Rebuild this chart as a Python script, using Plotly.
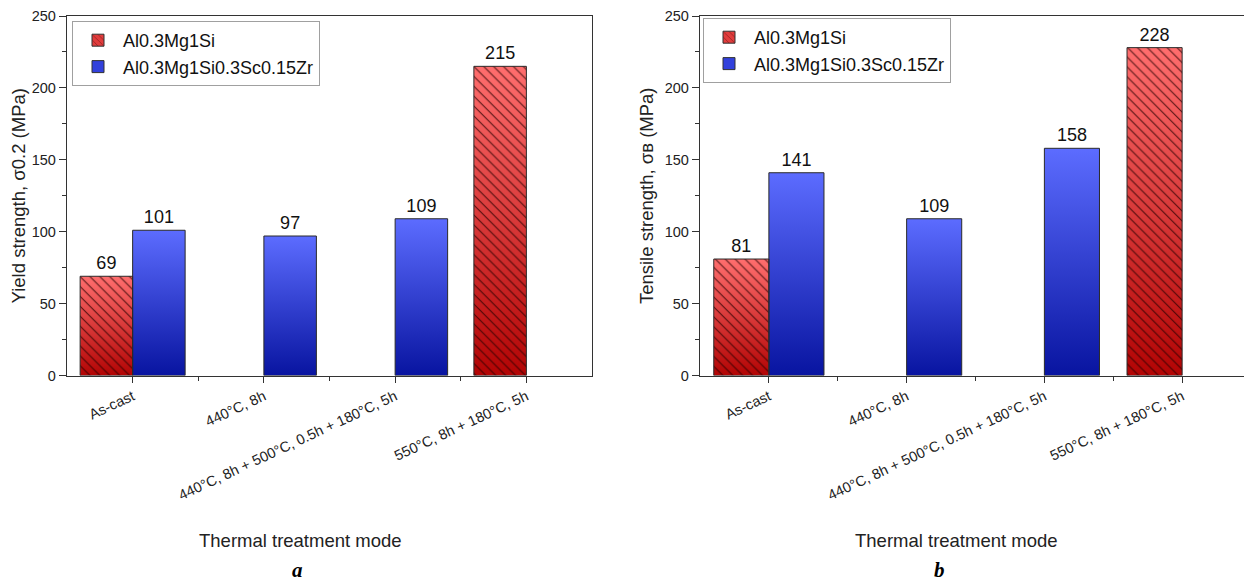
import plotly.graph_objects as go

# ---------------- data ----------------
categories = ["As-cast", "440°C, 8h", "440°C, 8h + 500°C, 0.5h + 180°C, 5h", "550°C, 8h + 180°C, 5h"]
series_names = ["Al0.3Mg1Si", "Al0.3Mg1Si0.3Sc0.15Zr"]
yield_base = [69, None, None, 215]      # Al0.3Mg1Si
yield_sc = [101, 97, 109, None]         # Al0.3Mg1Si0.3Sc0.15Zr
tensile_base = [81, None, None, 228]
tensile_sc = [141, 109, 158, None]
y_ticks = [0, 50, 100, 150, 200, 250]

# ---------------- style ----------------
FONT = "Liberation Sans, Arial, sans-serif"
RED_SCALE = [[0, "rgb(178,4,4)"], [1, "rgb(255,110,110)"]]
BLUE_SCALE = [[0, "rgb(8,20,160)"], [1, "rgb(92,108,255)"]]
BAR_W = 0.4
OFFSETS = [-BAR_W, 0.0]
SCALES = [RED_SCALE, BLUE_SCALE]
LEGEND_COLORS = ["rgb(225,60,60)", "rgb(50,65,220)"]

# page body has an 8px margin: figure is placed at (8, 8) in the window
OX, OY = 8, 8
W, H = 1252 - OX, 583 - OY


def px(x):
    return (x - OX) / W


def py(y):
    return 1 - (y - OY) / H


fig = go.Figure()


def add_panel(vals_list, xa, ya, xo, yo, legend_name):
    # gradient fills (base subplot)
    for s, vals in enumerate(vals_list):
        for i, v in enumerate(vals):
            if v is None:
                continue
            x0 = i + OFFSETS[s]
            x1 = x0 + BAR_W
            fig.add_trace(go.Scatter(
                x=[x0, x0, x1, x1, x0], y=[0, v, v, 0, 0],
                mode="none", fill="toself",
                fillgradient=dict(type="vertical", colorscale=SCALES[s]),
                hoverinfo="skip", showlegend=False,
                xaxis=xa, yaxis=ya))
    # legend-only entries
    for s in range(2):
        fig.add_trace(go.Bar(
            x=[None], y=[None], name=series_names[s],
            marker=dict(color=LEGEND_COLORS[s],
                        line=dict(color="#333", width=1),
                        pattern=dict(shape="\\" if s == 0 else "", fillmode="overlay",
                                     fgcolor="rgba(60,0,0,0.9)", size=5, solidity=0.2)),
            xaxis=xa, yaxis=ya, legend=legend_name, showlegend=True))
    # outlined / hatched bars with value labels (overlay subplot, drawn on top)
    for s, vals in enumerate(vals_list):
        fig.add_trace(go.Bar(
            x=list(range(len(categories))), y=vals,
            offset=OFFSETS[s], width=BAR_W,
            marker=dict(color="rgba(0,0,0,0)",
                        line=dict(color="#2a2a2a", width=1),
                        pattern=dict(shape="\\" if s == 0 else "",
                                     fgcolor="rgba(40,0,0,0.8)", size=7, solidity=0.15)),
            text=[("" if v is None else str(v)) for v in vals],
            textposition="outside", cliponaxis=False,
            textfont=dict(family=FONT, size=18, color="#111"),
            name=series_names[s], showlegend=False,
            xaxis=xo, yaxis=yo))


add_panel([yield_base, yield_sc], "x", "y", "x3", "y3", "legend")
add_panel([tensile_base, tensile_sc], "x2", "y2", "x4", "y4", "legend2")

dom_a = [px(67), px(592)]
dom_b = [px(700), px(1251)]
dom_y = [py(375.5), py(16)]

xcommon = dict(range=[-0.5, 3.5], tickvals=list(range(len(categories))), ticktext=categories,
               tickangle=-25, ticks="outside", ticklen=6, tickwidth=1, tickcolor="#333",
               minor=dict(tickvals=[0.5, 1.5, 2.5], ticks="outside", ticklen=4, tickcolor="#333"),
               showline=True, linecolor="#333", linewidth=1.3, mirror=True,
               showgrid=False, zeroline=False, automargin=False,
               tickfont=dict(family=FONT, size=14.5, color="#222"))
ycommon = dict(range=[0, 250], tickvals=y_ticks, ticks="outside", ticklen=7, tickwidth=1, tickcolor="#333",
               minor=dict(dtick=25, ticks="outside", ticklen=4, tickcolor="#333"),
               showline=True, linecolor="#333", linewidth=1.3, mirror=True,
               showgrid=False, zeroline=False, automargin=False,
               tickfont=dict(family=FONT, size=14.5, color="#222"))
hidden_x = dict(range=[-0.5, 3.5], visible=False, showgrid=False, zeroline=False, automargin=False)
hidden_y = dict(range=[0, 250], visible=False, showgrid=False, zeroline=False, automargin=False)

legend_common = dict(xanchor="left", yanchor="top", bgcolor="white", bordercolor="#a0a0a0", borderwidth=1,
                     font=dict(family=FONT, size=18, color="#111"), itemwidth=40, tracegroupgap=0,
                     traceorder="normal")

title_font = dict(family=FONT, size=18.5, color="#222")
label_font = dict(family="Liberation Serif, Times New Roman, serif", size=21, color="#000")

fig.update_layout(
    template="none",
    width=W, height=H, margin=dict(l=0, r=0, t=0, b=0, pad=0, autoexpand=False),
    paper_bgcolor="white", plot_bgcolor="white",
    barmode="overlay", showlegend=True,
    font=dict(family=FONT, color="#222"),
    xaxis=dict(domain=dom_a, anchor="y", **xcommon),
    yaxis=dict(domain=dom_y, anchor="x",
               title=dict(text="Yield strength, σ0.2 (MPa)", font=title_font, standoff=6), **ycommon),
    xaxis2=dict(domain=dom_b, anchor="y2", **xcommon),
    yaxis2=dict(domain=dom_y, anchor="x2",
                title=dict(text="Tensile strength, σв (MPa)", font=title_font, standoff=6), **ycommon),
    xaxis3=dict(overlaying="x", anchor="y3", **hidden_x),
    yaxis3=dict(overlaying="y", anchor="x3", **hidden_y),
    xaxis4=dict(overlaying="x2", anchor="y4", **hidden_x),
    yaxis4=dict(overlaying="y2", anchor="x4", **hidden_y),
    legend=dict(x=px(72), y=py(21), **legend_common),
    legend2=dict(x=px(703), y=py(18), **legend_common),
    annotations=[
        dict(text="Thermal treatment mode", x=px(300), y=py(540), xref="paper", yref="paper",
             xanchor="center", yanchor="middle", showarrow=False, font=title_font),
        dict(text="Thermal treatment mode", x=px(956), y=py(540), xref="paper", yref="paper",
             xanchor="center", yanchor="middle", showarrow=False, font=title_font),
        dict(text="<b><i>a</i></b>", x=px(297), y=py(570), xref="paper", yref="paper",
             xanchor="center", yanchor="middle", showarrow=False, font=label_font),
        dict(text="<b><i>b</i></b>", x=px(940), y=py(570), xref="paper", yref="paper",
             xanchor="center", yanchor="middle", showarrow=False, font=label_font),
    ],
)

fig.write_html("out.html")
